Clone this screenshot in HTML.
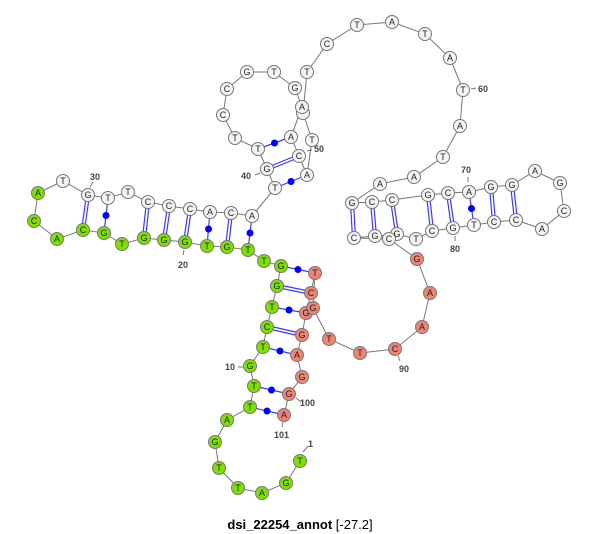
<!DOCTYPE html>
<html><head><meta charset="utf-8"><style>
html,body{margin:0;padding:0;background:#fff;}
svg{display:block;}
.b{stroke:#777;stroke-width:1;fill:none}
.p{stroke:#3a3aff;stroke-width:1.2;fill:none}
.n{stroke:#777;stroke-width:1}
.g{fill:#7fe000}.r{fill:#f08474}.w{fill:#f4f4f4}
.t{font-family:"Liberation Sans",sans-serif;font-size:9px;fill:#222;text-anchor:middle;dominant-baseline:central}
.l{font-family:"Liberation Sans",sans-serif;font-size:9px;fill:#444;font-weight:bold}
</style></head><body>
<svg width="600" height="534" viewBox="0 0 600 534" xmlns="http://www.w3.org/2000/svg">
<polyline class="b" points="300,461 286,483 262,493 238,488 219,468 215,442 227,420 250,407 254,386 250,366 263,347 267,327 272,307 277,286 281,266 264,261 248,250 227,247 207,246 185,242 164,240 144,238 122,244 104,233 83,230 57,239 34,221 38,193 63,181 88,195 108,198 128,192 148,202 169,206 190,209 210,212 231,213 252,216 275,188 267,169 258,149 235,138 223,115 227,89 247,72 274,72 295,88 302,107 291,137 299,156 307,175 312,140 303,113 307,72 327,44 357,25 392,22 425,34 450,58 463,90 460,126 443,157 414,177 380,184 352,203 372,202 392,200 428,195 448,193 469,192 491,187 512,185 535,171 560,183 564,211 542,229 516,220 494,222 474,225 453,228 432,231 416,239 397,234 375,236 354,238 389,239 417,259 430,293 422,327 395,349 360,353 329,339 313,308 315,273 311,293 306,313 302,335 297,355 302,377 289,394 284,415"/>
<g class="p">
<line x1="267" y1="169" x2="299" y2="156" transform="translate(0,-1.5)"/><line x1="267" y1="169" x2="299" y2="156" transform="translate(0,1.5)"/>
<line x1="275" y1="188" x2="307" y2="175"/>
<line x1="258" y1="149" x2="291" y2="137"/>
<line x1="281" y1="266" x2="315" y2="273"/>
<line x1="277" y1="286" x2="311" y2="293" transform="translate(0,-1.5)"/><line x1="277" y1="286" x2="311" y2="293" transform="translate(0,1.5)"/>
<line x1="272" y1="307" x2="306" y2="313"/>
<line x1="267" y1="327" x2="302" y2="335" transform="translate(0,-1.5)"/><line x1="267" y1="327" x2="302" y2="335" transform="translate(0,1.5)"/>
<line x1="263" y1="347" x2="297" y2="355"/>
<line x1="254" y1="386" x2="289" y2="394"/>
<line x1="250" y1="407" x2="284" y2="415"/>
<line x1="252" y1="216" x2="248" y2="250"/>
<line x1="231" y1="213" x2="227" y2="247" transform="translate(-1.5,0)"/><line x1="231" y1="213" x2="227" y2="247" transform="translate(1.5,0)"/>
<line x1="210" y1="212" x2="207" y2="246"/>
<line x1="190" y1="209" x2="185" y2="242" transform="translate(-1.5,0)"/><line x1="190" y1="209" x2="185" y2="242" transform="translate(1.5,0)"/>
<line x1="169" y1="206" x2="164" y2="240" transform="translate(-1.5,0)"/><line x1="169" y1="206" x2="164" y2="240" transform="translate(1.5,0)"/>
<line x1="148" y1="202" x2="144" y2="238" transform="translate(-1.5,0)"/><line x1="148" y1="202" x2="144" y2="238" transform="translate(1.5,0)"/>
<line x1="108" y1="198" x2="104" y2="233"/>
<line x1="88" y1="195" x2="83" y2="230" transform="translate(-1.5,0)"/><line x1="88" y1="195" x2="83" y2="230" transform="translate(1.5,0)"/>
<line x1="352" y1="203" x2="354" y2="238" transform="translate(-1.5,0)"/><line x1="352" y1="203" x2="354" y2="238" transform="translate(1.5,0)"/>
<line x1="372" y1="202" x2="375" y2="236" transform="translate(-1.5,0)"/><line x1="372" y1="202" x2="375" y2="236" transform="translate(1.5,0)"/>
<line x1="392" y1="200" x2="397" y2="234" transform="translate(-1.5,0)"/><line x1="392" y1="200" x2="397" y2="234" transform="translate(1.5,0)"/>
<line x1="428" y1="195" x2="432" y2="231" transform="translate(-1.5,0)"/><line x1="428" y1="195" x2="432" y2="231" transform="translate(1.5,0)"/>
<line x1="448" y1="193" x2="453" y2="228" transform="translate(-1.5,0)"/><line x1="448" y1="193" x2="453" y2="228" transform="translate(1.5,0)"/>
<line x1="469" y1="192" x2="474" y2="225"/>
<line x1="491" y1="187" x2="494" y2="222" transform="translate(-1.5,0)"/><line x1="491" y1="187" x2="494" y2="222" transform="translate(1.5,0)"/>
<line x1="512" y1="185" x2="516" y2="220" transform="translate(-1.5,0)"/><line x1="512" y1="185" x2="516" y2="220" transform="translate(1.5,0)"/>
</g>
<g fill="#0000ff">
<circle cx="291" cy="181.5" r="3.5"/><circle cx="274.5" cy="143" r="3.5"/><circle cx="298" cy="269.5" r="3.5"/><circle cx="289" cy="310" r="3.5"/><circle cx="280" cy="351" r="3.5"/><circle cx="271.5" cy="390" r="3.5"/><circle cx="267" cy="411" r="3.5"/><circle cx="250" cy="233" r="3.5"/><circle cx="208.5" cy="229" r="3.5"/><circle cx="106" cy="215.5" r="3.5"/><circle cx="471.5" cy="208.5" r="3.5"/>
</g>
<g class="l">
<line x1="303" y1="452" x2="308" y2="446" class="b"/><text x="308" y="447">1</text>
<line x1="238" y1="367" x2="243" y2="367" class="b"/><text x="225" y="370">10</text>
<line x1="184" y1="250" x2="183" y2="255" class="b"/><text x="178" y="268">20</text>
<line x1="90" y1="187" x2="93" y2="182" class="b"/><text x="90" y="180">30</text>
<line x1="255" y1="175" x2="260" y2="173" class="b"/><text x="241" y="179">40</text>
<line x1="307" y1="151" x2="312" y2="150" class="b"/><text x="314" y="152">50</text>
<line x1="471" y1="89" x2="476" y2="88" class="b"/><text x="478" y="92">60</text>
<line x1="468" y1="177" x2="468" y2="182" class="b"/><text x="461" y="173">70</text>
<line x1="455" y1="236" x2="455" y2="241" class="b"/><text x="450" y="252">80</text>
<line x1="398" y1="356" x2="400" y2="361" class="b"/><text x="399" y="372">90</text>
<line x1="296" y1="398" x2="301" y2="402" class="b"/><text x="300" y="406">100</text>
<line x1="283" y1="422" x2="282" y2="427" class="b"/><text x="274" y="438">101</text>
</g>
<g>
<g class="n g"><circle cx="300" cy="461" r="6.5"/><circle cx="286" cy="483" r="6.5"/><circle cx="262" cy="493" r="6.5"/><circle cx="238" cy="488" r="6.5"/><circle cx="219" cy="468" r="6.5"/><circle cx="215" cy="442" r="6.5"/><circle cx="227" cy="420" r="6.5"/><circle cx="250" cy="407" r="6.5"/><circle cx="254" cy="386" r="6.5"/><circle cx="250" cy="366" r="6.5"/><circle cx="263" cy="347" r="6.5"/><circle cx="267" cy="327" r="6.5"/><circle cx="272" cy="307" r="6.5"/><circle cx="277" cy="286" r="6.5"/><circle cx="281" cy="266" r="6.5"/><circle cx="264" cy="261" r="6.5"/><circle cx="248" cy="250" r="6.5"/><circle cx="227" cy="247" r="6.5"/><circle cx="207" cy="246" r="6.5"/><circle cx="185" cy="242" r="6.5"/><circle cx="164" cy="240" r="6.5"/><circle cx="144" cy="238" r="6.5"/><circle cx="122" cy="244" r="6.5"/><circle cx="104" cy="233" r="6.5"/><circle cx="83" cy="230" r="6.5"/><circle cx="57" cy="239" r="6.5"/><circle cx="34" cy="221" r="6.5"/><circle cx="38" cy="193" r="6.5"/></g>
<g class="n w"><circle cx="63" cy="181" r="6.5"/><circle cx="88" cy="195" r="6.5"/><circle cx="108" cy="198" r="6.5"/><circle cx="128" cy="192" r="6.5"/><circle cx="148" cy="202" r="6.5"/><circle cx="169" cy="206" r="6.5"/><circle cx="190" cy="209" r="6.5"/><circle cx="210" cy="212" r="6.5"/><circle cx="231" cy="213" r="6.5"/><circle cx="252" cy="216" r="6.5"/><circle cx="275" cy="188" r="6.5"/><circle cx="267" cy="169" r="6.5"/><circle cx="258" cy="149" r="6.5"/><circle cx="235" cy="138" r="6.5"/><circle cx="223" cy="115" r="6.5"/><circle cx="227" cy="89" r="6.5"/><circle cx="247" cy="72" r="6.5"/><circle cx="274" cy="72" r="6.5"/><circle cx="295" cy="88" r="6.5"/><circle cx="303" cy="113" r="6.5"/><circle cx="302" cy="107" r="6.5"/><circle cx="291" cy="137" r="6.5"/><circle cx="299" cy="156" r="6.5"/><circle cx="307" cy="175" r="6.5"/><circle cx="312" cy="140" r="6.5"/><circle cx="307" cy="72" r="6.5"/><circle cx="327" cy="44" r="6.5"/><circle cx="357" cy="25" r="6.5"/><circle cx="392" cy="22" r="6.5"/><circle cx="425" cy="34" r="6.5"/><circle cx="450" cy="58" r="6.5"/><circle cx="463" cy="90" r="6.5"/><circle cx="460" cy="126" r="6.5"/><circle cx="443" cy="157" r="6.5"/><circle cx="414" cy="177" r="6.5"/><circle cx="380" cy="184" r="6.5"/><circle cx="352" cy="203" r="6.5"/><circle cx="372" cy="202" r="6.5"/><circle cx="392" cy="200" r="6.5"/><circle cx="428" cy="195" r="6.5"/><circle cx="448" cy="193" r="6.5"/><circle cx="469" cy="192" r="6.5"/><circle cx="491" cy="187" r="6.5"/><circle cx="512" cy="185" r="6.5"/><circle cx="535" cy="171" r="6.5"/><circle cx="560" cy="183" r="6.5"/><circle cx="564" cy="211" r="6.5"/><circle cx="542" cy="229" r="6.5"/><circle cx="516" cy="220" r="6.5"/><circle cx="494" cy="222" r="6.5"/><circle cx="474" cy="225" r="6.5"/><circle cx="453" cy="228" r="6.5"/><circle cx="432" cy="231" r="6.5"/><circle cx="416" cy="239" r="6.5"/><circle cx="397" cy="234" r="6.5"/><circle cx="375" cy="236" r="6.5"/><circle cx="354" cy="238" r="6.5"/><circle cx="389" cy="239" r="6.5"/></g>
<g class="n r"><circle cx="417" cy="259" r="6.5"/><circle cx="430" cy="293" r="6.5"/><circle cx="422" cy="327" r="6.5"/><circle cx="395" cy="349" r="6.5"/><circle cx="360" cy="353" r="6.5"/><circle cx="329" cy="339" r="6.5"/><circle cx="315" cy="273" r="6.5"/><circle cx="311" cy="293" r="6.5"/><circle cx="306" cy="313" r="6.5"/><circle cx="313" cy="308" r="6.5"/><circle cx="302" cy="335" r="6.5"/><circle cx="297" cy="355" r="6.5"/><circle cx="302" cy="377" r="6.5"/><circle cx="289" cy="394" r="6.5"/><circle cx="284" cy="415" r="6.5"/></g>
</g>
<g class="t">
<text x="300" y="461">T</text><text x="286" y="483">G</text><text x="262" y="493">A</text><text x="238" y="488">T</text><text x="219" y="468">T</text><text x="215" y="442">G</text><text x="227" y="420">A</text><text x="250" y="407">T</text><text x="254" y="386">T</text><text x="250" y="366">G</text><text x="263" y="347">T</text><text x="267" y="327">C</text><text x="272" y="307">T</text><text x="277" y="286">G</text><text x="281" y="266">G</text><text x="264" y="261">T</text><text x="248" y="250">T</text><text x="227" y="247">G</text><text x="207" y="246">T</text><text x="185" y="242">G</text><text x="164" y="240">G</text><text x="144" y="238">G</text><text x="122" y="244">T</text><text x="104" y="233">G</text><text x="83" y="230">C</text><text x="57" y="239">A</text><text x="34" y="221">C</text><text x="38" y="193">A</text>
<text x="63" y="181">T</text><text x="88" y="195">G</text><text x="108" y="198">T</text><text x="128" y="192">T</text><text x="148" y="202">C</text><text x="169" y="206">C</text><text x="190" y="209">C</text><text x="210" y="212">A</text><text x="231" y="213">C</text><text x="252" y="216">A</text><text x="275" y="188">T</text><text x="267" y="169">G</text><text x="258" y="149">T</text><text x="235" y="138">T</text><text x="223" y="115">C</text><text x="227" y="89">C</text><text x="247" y="72">G</text><text x="274" y="72">T</text><text x="295" y="88">G</text><text x="302" y="107">A</text><text x="291" y="137">A</text><text x="299" y="156">C</text><text x="307" y="175">A</text><text x="312" y="140">T</text><text x="307" y="72">T</text><text x="327" y="44">C</text><text x="357" y="25">T</text><text x="392" y="22">A</text><text x="425" y="34">T</text><text x="450" y="58">A</text><text x="463" y="90">T</text><text x="460" y="126">A</text><text x="443" y="157">T</text><text x="414" y="177">A</text><text x="380" y="184">A</text><text x="352" y="203">G</text><text x="372" y="202">C</text><text x="392" y="200">C</text><text x="428" y="195">G</text><text x="448" y="193">C</text><text x="469" y="192">A</text><text x="491" y="187">G</text><text x="512" y="185">G</text><text x="535" y="171">A</text><text x="560" y="183">G</text><text x="564" y="211">C</text><text x="542" y="229">A</text><text x="516" y="220">C</text><text x="494" y="222">C</text><text x="474" y="225">T</text><text x="453" y="228">G</text><text x="432" y="231">C</text><text x="416" y="239">T</text><text x="397" y="234">G</text><text x="375" y="236">G</text><text x="354" y="238">C</text><text x="389" y="239">C</text>
<text x="417" y="259">G</text><text x="430" y="293">A</text><text x="422" y="327">A</text><text x="395" y="349">C</text><text x="360" y="353">T</text><text x="329" y="339">T</text><text x="315" y="273">T</text><text x="311" y="293">C</text><text x="306" y="313">G</text><text x="313" y="308">G</text><text x="302" y="335">G</text><text x="297" y="355">A</text><text x="302" y="377">G</text><text x="289" y="394">G</text><text x="284" y="415">A</text>
</g>
<text x="300" y="529" text-anchor="middle" font-family="Liberation Sans, sans-serif" font-size="13" fill="#000"><tspan font-weight="bold">dsi_22254_annot</tspan> [-27.2]</text>
</svg>
</body></html>
